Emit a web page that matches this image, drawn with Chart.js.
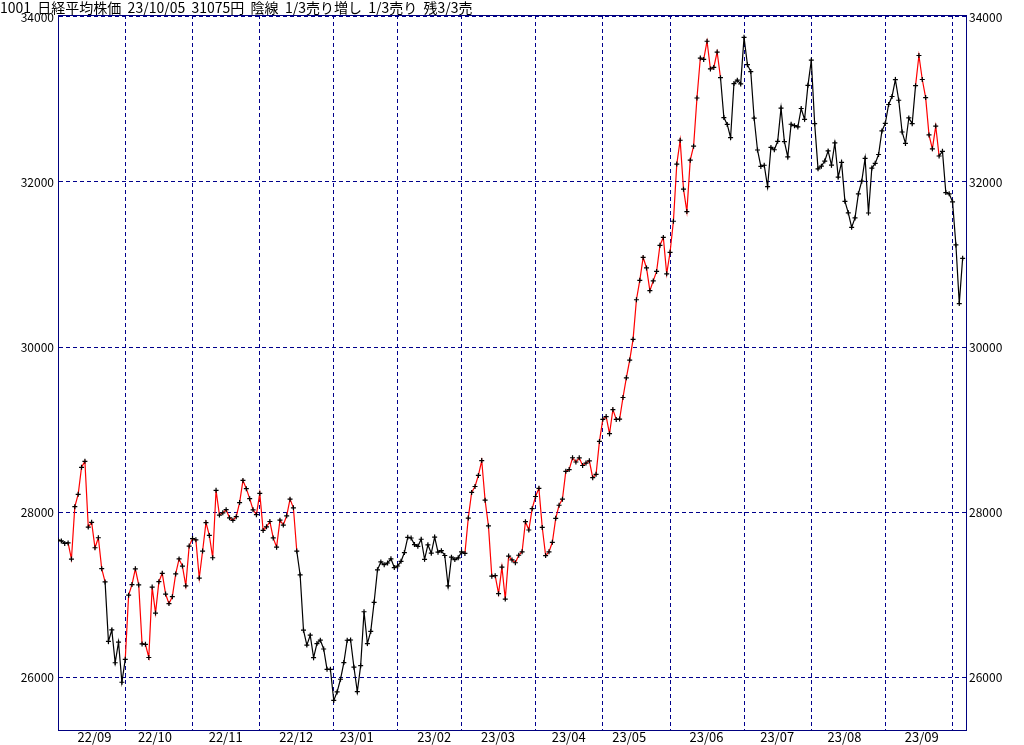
<!DOCTYPE html>
<html><head><meta charset="utf-8">
<script src="https://cdn.jsdelivr.net/npm/chart.js@4.4.0/dist/chart.umd.min.js"></script>
<style>html,body{margin:0;padding:0;background:#fff;}canvas{display:block;}</style>
</head><body>
<canvas id="c" width="1024" height="745"></canvas>
<script>
const titleText = '1001  日経平均株価  23/10/05  31075円  陰線  1/3売り増し  1/3売り  残3/3売';

const dates = [
'22/09/01','22/09/02','22/09/05','22/09/06','22/09/07','22/09/08','22/09/09','22/09/12','22/09/13','22/09/14','22/09/15','22/09/16','22/09/20','22/09/21','22/09/22','22/09/26','22/09/27','22/09/28','22/09/29','22/09/30',
'22/10/03','22/10/04','22/10/05','22/10/06','22/10/07','22/10/11','22/10/12','22/10/13','22/10/14','22/10/17','22/10/18','22/10/19','22/10/20','22/10/21','22/10/24','22/10/25','22/10/26','22/10/27','22/10/28','22/10/31',
'22/11/01','22/11/02','22/11/04','22/11/07','22/11/08','22/11/09','22/11/10','22/11/11','22/11/14','22/11/15','22/11/16','22/11/17','22/11/18','22/11/21','22/11/22','22/11/24','22/11/25','22/11/28','22/11/29','22/11/30',
'22/12/01','22/12/02','22/12/05','22/12/06','22/12/07','22/12/08','22/12/09','22/12/12','22/12/13','22/12/14','22/12/15','22/12/16','22/12/19','22/12/20','22/12/21','22/12/22','22/12/23','22/12/26','22/12/27','22/12/28','22/12/29','22/12/30',
'23/01/04','23/01/05','23/01/06','23/01/10','23/01/11','23/01/12','23/01/13','23/01/16','23/01/17','23/01/18','23/01/19','23/01/20','23/01/23','23/01/24','23/01/25','23/01/26','23/01/27','23/01/30','23/01/31',
'23/02/01','23/02/02','23/02/03','23/02/06','23/02/07','23/02/08','23/02/09','23/02/10','23/02/13','23/02/14','23/02/15','23/02/16','23/02/17','23/02/20','23/02/21','23/02/22','23/02/24','23/02/27','23/02/28',
'23/03/01','23/03/02','23/03/03','23/03/06','23/03/07','23/03/08','23/03/09','23/03/10','23/03/13','23/03/14','23/03/15','23/03/16','23/03/17','23/03/20','23/03/22','23/03/23','23/03/24','23/03/27','23/03/28','23/03/29','23/03/30','23/03/31',
'23/04/03','23/04/04','23/04/05','23/04/06','23/04/07','23/04/10','23/04/11','23/04/12','23/04/13','23/04/14','23/04/17','23/04/18','23/04/19','23/04/20','23/04/21','23/04/24','23/04/25','23/04/26','23/04/27','23/04/28',
'23/05/01','23/05/02','23/05/08','23/05/09','23/05/10','23/05/11','23/05/12','23/05/15','23/05/16','23/05/17','23/05/18','23/05/19','23/05/22','23/05/23','23/05/24','23/05/25','23/05/26','23/05/29','23/05/30','23/05/31',
'23/06/01','23/06/02','23/06/05','23/06/06','23/06/07','23/06/08','23/06/09','23/06/12','23/06/13','23/06/14','23/06/15','23/06/16','23/06/19','23/06/20','23/06/21','23/06/22','23/06/23','23/06/26','23/06/27','23/06/28','23/06/29','23/06/30',
'23/07/03','23/07/04','23/07/05','23/07/06','23/07/07','23/07/10','23/07/11','23/07/12','23/07/13','23/07/14','23/07/18','23/07/19','23/07/20','23/07/21','23/07/24','23/07/25','23/07/26','23/07/27','23/07/28','23/07/31',
'23/08/01','23/08/02','23/08/03','23/08/04','23/08/07','23/08/08','23/08/09','23/08/10','23/08/14','23/08/15','23/08/16','23/08/17','23/08/18','23/08/21','23/08/22','23/08/23','23/08/24','23/08/25','23/08/28','23/08/29','23/08/30','23/08/31',
'23/09/01','23/09/04','23/09/05','23/09/06','23/09/07','23/09/08','23/09/11','23/09/12','23/09/13','23/09/14','23/09/15','23/09/19','23/09/20','23/09/21','23/09/22','23/09/25','23/09/26','23/09/27','23/09/28','23/09/29',
'23/10/02','23/10/03','23/10/04','23/10/05'
];

const closes = [
27661,27650,27619,27626,27430,28065,28214,28542,28614,27818,27875,27567,27688,27313,27153,26431,26571,26173,26422,25937,
26215,26992,27120,27311,27116,26401,26397,26237,27090,26775,27156,27257,27006,26890,26974,27250,27431,27345,27105,27587,
27678,27663,27199,27527,27872,27716,27446,28263,27963,27990,28028,27930,27899,27944,28115,28383,28283,28162,28027,27968,
28226,27777,27820,27885,27686,27574,27901,27842,27954,28156,28051,27527,27237,26568,26387,26507,26235,26405,26447,26340,26093,26094,
25716,25820,25973,26175,26446,26449,26119,25822,26138,26791,26405,26553,26906,27299,27395,27362,27382,27433,27327,
27346,27402,27509,27693,27685,27606,27584,27670,27427,27602,27501,27696,27513,27531,27473,27104,27453,27423,27445,
27516,27498,27927,28237,28309,28444,28623,28143,27832,27222,27229,27010,27333,26945,27466,27419,27385,27476,27518,27883,27782,28041,
28188,28287,27813,27472,27518,27633,27923,28082,28156,28493,28514,28658,28606,28657,28564,28593,28620,28416,28457,28856,
29123,29157,28949,29242,29122,29126,29388,29626,29842,30093,30573,30808,31086,30958,30683,30801,30916,31233,31328,30887,
31148,31524,32217,32506,31913,31641,32265,32434,33018,33502,33485,33706,33370,33388,33575,33264,32781,32698,32538,33193,33234,33189,
33753,33422,33338,32773,32388,32189,32203,31943,32419,32391,32493,32896,32490,32304,32700,32682,32668,32891,32759,33172,
33476,32707,32159,32192,32254,32377,32204,32473,32059,32238,31766,31626,31450,31565,31856,32010,32287,31624,32169,32226,32333,32619,
32710,32939,33036,33241,32991,32606,32467,32776,32707,33168,33533,33242,33023,32571,32402,32678,32315,32372,31872,31857,
31759,31237,30526,31075
];

const yTicks = [26000, 28000, 30000, 32000, 34000];
const monthLabels = ['22/09','22/10','22/11','22/12','23/01','23/02','23/03','23/04','23/05','23/06','23/07','23/08','23/09'];
// stretches of the line drawn in red (first and last point of each stretch)
const redSpans = [
  ['22/09/06','22/09/22'],
  ['22/10/03','22/12/16'],
  ['23/03/02','23/06/22'],
  ['23/09/14','23/09/26']
];

const NAVY = '#000080';
const GRID = '#00008c';
const FONT = "'Noto Sans CJK JP', 'DejaVu Sans', sans-serif";

// month boundaries (first trading day) and label anchors (last trading day on/before the 15th)
const monthStarts = [], labelAnchors = [];
let prevMonth = null;
dates.forEach((d, i) => {
  const [yy, mm, dd] = d.split('/');
  const key = yy + mm;
  if (key !== prevMonth) { if (prevMonth !== null) monthStarts.push(i); labelAnchors.push(-1); prevMonth = key; }
  if (+dd <= 15) labelAnchors[labelAnchors.length - 1] = i;
});
const spanIdx = redSpans.map(([a, b]) => [dates.indexOf(a), dates.indexOf(b)]);
const isRed = i => spanIdx.some(([a, b]) => i >= a && i + 1 <= b);

const frame = {
  id: 'frame',
  afterDraw(chart) {
    const {ctx, chartArea: a} = chart;
    ctx.save();
    ctx.strokeStyle = NAVY; ctx.lineWidth = 1;
    ctx.beginPath(); ctx.moveTo(a.left, a.top + 0.5); ctx.lineTo(a.right + 1, a.top + 0.5); ctx.stroke();
    ctx.restore();
  }
};

new Chart(document.getElementById('c'), {
  type: 'line',
  data: {
    datasets: [{
      data: closes.map((v, i) => ({x: i, y: v})),
      borderWidth: 1.2,
      borderColor: '#000',
      segment: { borderColor: c => isRed(c.p0DataIndex) ? '#ff0000' : '#000000' },
      tension: 0,
      pointStyle: 'cross',
      pointRadius: 2.5,
      pointHoverRadius: 2.5,
      pointBorderWidth: 1.2,
      pointBorderColor: '#000',
      pointBackgroundColor: '#000',
      fill: false
    }]
  },
  plugins: [frame],
  options: {
    responsive: false,
    animation: false,
    devicePixelRatio: 1,
    events: [],
    layout: { padding: 0, autoPadding: false },
    plugins: {
      legend: { display: false },
      tooltip: { enabled: false },
      title: {
        display: true, text: titleText, align: 'start', color: '#000',
        padding: { top: 0, bottom: 0 },
        font: { family: FONT, size: 14, weight: 'normal', lineHeight: '15px' }
      }
    },
    scales: {
      x: {
        type: 'linear', min: 0, max: dates.length,
        afterBuildTicks: s => {
          s.ticks = monthStarts.map(v => ({value: v, txt: '', grid: true}))
            .concat(labelAnchors.map((v, k) => ({value: v + 0.85, txt: monthLabels[k], grid: false})));
        },
        afterFit: s => { s.height = 15; },
        ticks: {
          autoSkip: false, maxRotation: 0, padding: -1, color: '#000',
          font: { family: FONT, size: 13 },
          callback: (v, i, t) => t[i].txt
        },
        grid: {
          drawTicks: false, lineWidth: 1,
          color: c => (c.tick && c.tick.grid) ? GRID : 'rgba(0,0,0,0)'
        },
        border: { display: true, color: NAVY, width: 1, dash: [4, 3] }
      },
      y: {
        position: 'left', min: 25358, max: 34024,
        afterBuildTicks: s => { s.ticks = yTicks.map(v => ({value: v})); },
        afterFit: s => { s.width = 58; },
        ticks: { padding: 4, color: '#000', font: { family: FONT, size: 12 }, callback: v => String(v) },
        grid: { drawTicks: false, color: GRID, lineWidth: 1 },
        border: { display: true, color: NAVY, width: 1, dash: [4, 3] }
      },
      y2: {
        position: 'right', min: 25358, max: 34024,
        afterBuildTicks: s => { s.ticks = yTicks.map(v => ({value: v})); },
        afterFit: s => { s.width = 58; },
        ticks: { padding: 3, color: '#000', font: { family: FONT, size: 12 }, callback: v => String(v) },
        grid: { display: false, drawTicks: false },
        border: { display: true, color: NAVY, width: 1 }
      }
    }
  }
});
</script>
</body></html>
